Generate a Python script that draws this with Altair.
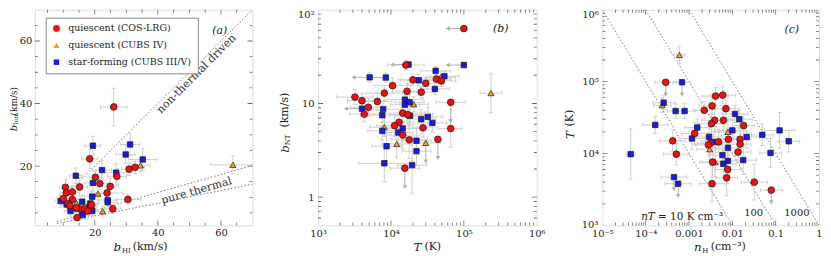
import altair as alt
import pandas as pd

FONT = "DejaVu Serif"
GROUPS = ["quiescent (COS-LRG)", "quiescent (CUBS IV)", "star-forming (CUBS III/V)"]
FILLS = ["#ee1111", "#f2a020", "#1a1ae6"]
SHAPES = ["circle", "triangle-up", "square"]
SIZES = [46, 30, 25]
EDGE = "#1a1a1a"
EB = "#d0d0d0"
ARR = "#b0b0b0"
FRAME = "#7a7a7a"
TICK = "#6a6a6a"
LBL = "#222222"
LINE = "#666666"

# ---------------- panel (a): b_ion vs b_HI (km/s) ----------------
a_red_bHI = [26.0, 18.4, 27.0, 30.9, 32.8, 20.2, 21.6, 24.9, 15.2, 10.7, 23.9, 11.0, 12.9,
             10.0, 12.9, 11.5, 12.1, 15.3, 16.8, 18.6, 17.8, 14.4, 25.7, 30.5, 19.0, 14.2]
a_red_bion = [38.9, 22.3, 16.7, 19.0, 19.6, 16.4, 14.4, 13.5, 13.3, 13.2, 11.4, 11.4, 11.7,
              9.6, 9.3, 8.0, 7.3, 6.3, 6.4, 6.7, 5.6, 3.5, 6.3, 9.3, 7.6, 6.6]
a_red_ebHI = [4.2, 2.5, 3.0, 2.5, 3.0, 2.0, 3.0, 2.5, 2.5, 2.0, 5.0, 2.0, 2.0,
              2.0, 2.5, 2.0, 2.0, 2.0, 2.0, 2.0, 2.0, 2.0, 2.5, 4.0, 2.0, 2.0]
a_red_ebion = [6.0, 3.0, 2.5, 2.0, 2.0, 2.0, 2.0, 2.5, 3.0, 2.5, 2.0, 2.0, 2.0,
               2.0, 2.0, 1.5, 1.5, 1.5, 1.5, 1.5, 1.5, 1.0, 1.5, 1.5, 1.5, 1.5]

a_blue_bHI = [19.4, 31.2, 29.8, 35.2, 14.0, 22.3, 26.8, 19.4, 19.2, 24.1, 24.1, 9.2, 11.1,
              16.0, 18.6, 16.0, 12.3, 19.2, 16.2, 18.3]
a_blue_bion = [26.5, 26.9, 23.7, 22.1, 16.9, 18.7, 17.9, 14.6, 10.2, 9.1, 8.4, 8.8, 7.7,
               8.6, 8.0, 5.4, 5.6, 5.6, 4.4, 6.9]
a_blue_ebHI = [2.5, 3.0, 3.0, 4.5, 2.0, 3.0, 3.5, 2.5, 2.5, 3.0, 3.0, 2.0, 2.0,
               2.0, 2.5, 2.0, 2.0, 2.0, 2.0, 2.0]
a_blue_ebion = [3.0, 3.5, 3.0, 3.5, 2.5, 3.0, 3.0, 2.5, 2.0, 2.0, 2.0, 2.0, 2.0,
                2.0, 2.0, 1.5, 1.5, 1.5, 1.5, 1.5]

a_orange_bHI = [63.8, 34.5, 21.0, 14.2, 13.1, 22.5]
a_orange_bion = [20.4, 20.2, 11.2, 8.1, 6.4, 5.5]
a_orange_ebHI = [7.0, 3.0, 2.5, 2.0, 2.0, 2.5]
a_orange_ebion = [2.8, 2.0, 2.0, 1.5, 1.5, 1.5]

# reference lines: b_ion = ratio * b_HI (non-thermal; pure thermal C and Mg)
a_line_ratio = [1.0, 0.2887, 0.2029]
a_line_bHI = [8.0, 70.0]

# ---------------- panel (b): b_NT vs T ----------------
b_red_T = [1.0e5, 1.6e4, 2.0e4, 3.0e4, 1.05e4, 1.66e4, 8.1e3, 2.6e4, 4.2e4, 4.9e4, 3.2e3, 4.0e3, 6.5e3,
           4.9e3, 4.3e3, 6.6e4, 1.45e4, 1.7e4, 1.29e4, 1.12e4, 2.75e4, 6.6e4, 1.45e4, 1.78e4, 4.4e4, 1.55e4]
b_red_bNT = [63, 25.7, 17.9, 16.4, 15.5, 13.5, 12.9, 13.2, 18.2, 17.4, 11.7, 10.7, 10.5,
             9.1, 7.7, 10.3, 7.9, 7.6, 6.3, 5.8, 5.5, 5.4, 4.6, 4.1, 4.15, 2.04]
b_red_lim = ["left"] + [""] * 14 + ["down"] + [""] * 8 + ["down", "down"]
b_red_eT = [0, .25, .2, .25, .25, .2, .25, .2, .2, .2, .25, .2, .2,
            .25, .2, .2, .3, .25, .2, .25, .2, .15, .25, .25, 0, .2]
b_red_eb = [.03, .05, .06, .06, .08, .08, .08, .06, .05, .06, .08, .08, .1,
            .1, .08, 0, .1, .1, .1, .12, .1, .2, .15, .2, 0, 0]

b_blue_T = [1.74e4, 1.0e5, 4.1e4, 5.4e4, 5.1e3, 8.5e3, 2.4e4, 4.0e4, 1.55e4, 1.55e4, 1.8e4, 4.0e3, 7.8e3,
            7.6e3, 1.82e4, 3.2e4, 2.6e4, 3.7e4, 7.6e3, 1.45e4, 1.26e4, 8.7e3, 2.24e4, 2.24e4, 8.1e3, 1.95e4]
b_blue_bNT = [26, 25.7, 22.3, 19.5, 19, 18.9, 17.7, 14.3, 11.0, 9.7, 10.3, 8.8, 8.7,
              7.5, 7.4, 7.2, 6.8, 6.2, 5.1, 5.4, 4.9, 3.5, 4.0, 3.1, 2.3, 2.2]
b_blue_lim = ["left", "left", "", "", "left", "left"] + [""] * 5 + ["left"] + [""] * 14
b_blue_eT = [0, 0, .2, .2, 0, 0, .25, .2, .25, .2, .2, 0, .25,
             .3, .2, .2, .2, .2, .2, .3, .2, .2, .2, .2, .35, .2]
b_blue_eb = [.03, .03, .05, .05, .05, .05, .06, .06, .08, .1, .08, .06, .08,
             .08, .1, .1, .1, .1, .1, .12, .12, .15, .15, .15, .2, .3]

b_orange_T = [2.35e5, 2.05e4, 8.1e3, 1.2e4, 3.0e4, 4.8e4]
b_orange_bNT = [12.9, 9.8, 5.6, 3.7, 3.8, 19.0]
b_orange_lim = ["", "", "", "", "down", ""]
b_orange_eT = [.15, .2, .2, .2, .2, .2]
b_orange_eb = [.21, .08, .1, .15, 0, .06]

# ---------------- panel (c): T vs n_H ----------------
c_red_nH = [2.9e-4, 4.1e-3, 6.0e-3, 2.24e-3, 3.4e-3, 7.1e-3, 3.9e-3, 3.3e-3, 6.2e-3, 1.82e-2, 1.35e-3, 4.2e-4, 3.1e-3,
            4.8e-3, 8.1e-3, 1.51e-2, 1.51e-2, 1.35e-2, 5.1e-4, 3.5e-3, 7.8e-3, 7.4e-3, 3.4e-3, 3.2e-2, 7.9e-2, 2.8e-3]
c_red_T = [9.8e4, 6.3e4, 6.5e4, 4.0e4, 4.6e4, 4.2e4, 2.9e4, 2.6e4, 2.9e4, 2.45e4, 1.9e4, 1.5e4, 1.38e4,
           1.45e4, 1.58e4, 1.58e4, 1.35e4, 1.05e4, 9.8e3, 7.6e3, 6.0e3, 4.6e3, 3.8e3, 4.0e3, 3.1e3, 1.32e4]
c_red_lim = ["down"] + [""] * 23 + ["down", ""]
c_red_en = [.25, .3, .3, .25, .3, .3, .3, .3, .3, .25, .3, .3, .3,
            .3, .25, .25, .25, .3, .3, .3, .3, .25, .3, .3, .25, .3]
c_red_eT = [0, .12, .12, .12, .12, .12, .15, .15, .15, .15, .15, .15, .15,
            .15, .15, .15, .15, .15, .15, .2, .2, .25, .25, .25, 0, .15]

c_blue_nH = [6.9e-4, 2.6e-4, 4.9e-4, 7.9e-4, 1.66e-4, 1.15e-2, 1.45e-2, 1.55e-3, 1.17e-3, 2.9e-3, 3.8e-3, 1.0e-2, 2.14e-2,
             4.9e-2, 0.123, 0.2, 7.6e-2, 7.9e-3, 5.9e-3, 7.9e-3, 6.2e-3, 1.78e-2, 4.5e-5, 4.5e-4, 5.6e-4]
c_blue_T = [9.8e4, 5.1e4, 3.9e4, 3.9e4, 2.5e4, 3.55e4, 3.0e4, 2.3e4, 1.62e4, 1.7e4, 1.45e4, 2.1e4, 1.7e4,
            1.82e4, 2.1e4, 1.48e4, 1.02e4, 1.2e4, 9.5e3, 7.9e3, 7.2e3, 8.1e3, 9.8e3, 4.7e3, 3.8e3]
c_blue_lim = ["down"] + [""] * 22 + ["down", "down"]
c_blue_en = [.2, .25, .2, .25, .3, .3, .3, .3, .3, .3, .3, .3, .3,
             .25, .35, .25, .25, .3, .3, .3, .3, .3, .1, .3, .3]
c_blue_eT = [0, .1, .1, .1, .12, .12, .12, .12, .15, .15, .15, .15, .15,
             .15, .25, .15, .2, .15, .15, .2, .2, .2, .35, 0, 0]

c_orange_nH = [6.0e-4, 2.4e-4, 7.9e-3, 3.0e-3, 4.0e-3]
c_orange_T = [2.35e5, 4.7e4, 2.0e4, 1.15e4, 7.6e3]
c_orange_lim = ["", "", "", "", ""]
c_orange_en = [.12, .2, .3, .3, .3]
c_orange_eT = [.12, .1, .15, .15, .2]

c_nT = [10, 100, 1000]

ONE = pd.DataFrame({"k": [0]})


def build_df(sets, log, arrow_dex=0.2, left_dex=0.22):
    rows = []
    for grp, xs, ys, exs, eys, lims in sets:
        for i in range(len(xs)):
            x, y, ex, ey = xs[i], ys[i], exs[i], eys[i]
            lim = lims[i] if lims else ""
            if log:
                xlo, xhi = x / 10 ** ex, x * 10 ** ex
                ylo, yhi = y / 10 ** ey, y * 10 ** ey
            else:
                xlo, xhi, ylo, yhi = x - ex, x + ex, y - ey, y + ey
            ax, ay = x, y
            if lim == "down":
                ay = y / 10 ** arrow_dex
            elif lim == "left":
                ax = x / 10 ** left_dex
            rows.append(dict(grp=grp, x=x, y=y, xlo=xlo, xhi=xhi, ylo=ylo, yhi=yhi,
                             hasx=ex > 0, hasy=ey > 0, lim=lim, ax=ax, ay=ay))
    return pd.DataFrame(rows)


def txt(text, x, y, size=11, italic=False, angle=0, align="center", color=LBL):
    return alt.Chart(ONE).mark_text(
        text=text, font=FONT, fontSize=size, fontStyle="italic" if italic else "normal",
        angle=angle, align=align, baseline="middle", color=color
    ).encode(x=alt.value(x), y=alt.value(y))


class P:
    """Holds a panel's scales and axes, so every layer shares identical specs."""
    def __init__(self, xsc, ysc, xax, yax):
        self.xsc, self.ysc, self.xax, self.yax = xsc, ysc, xax, yax

    def X(self, f):
        return alt.X(f"{f}:Q", scale=self.xsc, axis=self.xax)

    def Y(self, f):
        return alt.Y(f"{f}:Q", scale=self.ysc, axis=self.yax)


def data_layers(df, p, legend):
    L = []
    ex = df[df.hasx]
    ey = df[df.hasy]
    L.append(alt.Chart(ex).mark_rule(color=EB, strokeWidth=1, clip=True).encode(
        x=p.X("xlo"), x2="xhi:Q", y=p.Y("y")))
    L.append(alt.Chart(ey).mark_rule(color=EB, strokeWidth=1, clip=True).encode(
        x=p.X("x"), y=p.Y("ylo"), y2="yhi:Q"))
    capx = pd.concat([ex[["xlo", "y"]].rename(columns={"xlo": "cx", "y": "cy"}),
                      ex[["xhi", "y"]].rename(columns={"xhi": "cx", "y": "cy"})])
    capy = pd.concat([ey[["x", "ylo"]].rename(columns={"x": "cx", "ylo": "cy"}),
                      ey[["x", "yhi"]].rename(columns={"x": "cx", "yhi": "cy"})])
    L.append(alt.Chart(capx).mark_tick(orient="vertical", size=4, thickness=1, color=EB,
                                       opacity=1, clip=True).encode(x=p.X("cx"), y=p.Y("cy")))
    L.append(alt.Chart(capy).mark_tick(orient="horizontal", size=4, thickness=1, color=EB,
                                       opacity=1, clip=True).encode(x=p.X("cx"), y=p.Y("cy")))
    dn = df[df.lim == "down"]
    lf = df[df.lim == "left"]
    if len(dn):
        L.append(alt.Chart(dn).mark_rule(color=ARR, strokeWidth=1, clip=True).encode(
            x=p.X("x"), y=p.Y("y"), y2="ay:Q"))
        L.append(alt.Chart(dn).mark_point(shape="triangle-down", filled=True, color=ARR, size=22,
                                          opacity=1, clip=True).encode(x=p.X("ax"), y=p.Y("ay")))
    if len(lf):
        L.append(alt.Chart(lf).mark_rule(color=ARR, strokeWidth=1, clip=True).encode(
            x=p.X("x"), x2="ax:Q", y=p.Y("y")))
        L.append(alt.Chart(lf).mark_point(shape="triangle-left", filled=True, color=ARR, size=22,
                                          opacity=1, clip=True).encode(x=p.X("ax"), y=p.Y("ay")))
    L.append(alt.Chart(df).mark_point(filled=True, opacity=1, stroke=EDGE, strokeWidth=0.7, clip=True).encode(
        x=p.X("x"), y=p.Y("y"),
        fill=alt.Fill("grp:N", scale=alt.Scale(domain=GROUPS, range=FILLS), legend=legend),
        shape=alt.Shape("grp:N", scale=alt.Scale(domain=GROUPS, range=SHAPES), legend=legend),
        size=alt.Size("grp:N", scale=alt.Scale(domain=GROUPS, range=SIZES), legend=legend),
    ))
    return L


def frame_ticks(p, xmaj, xmin, ymaj, ymin, w, h):
    L = []
    for vals, size in [(xmaj, 10), (xmin, 6)]:
        d = pd.DataFrame({"v": vals})
        for yy in [0, h]:
            L.append(alt.Chart(d).mark_tick(orient="vertical", size=size, thickness=0.8, color=TICK,
                                            opacity=1, clip=True).encode(x=p.X("v"), y=alt.value(yy)))
    for vals, size in [(ymaj, 10), (ymin, 6)]:
        d = pd.DataFrame({"v": vals})
        for xx in [0, w]:
            L.append(alt.Chart(d).mark_tick(orient="horizontal", size=size, thickness=0.8, color=TICK,
                                            opacity=1, clip=True).encode(x=alt.value(xx), y=p.Y("v")))
    return L


def log_minor(d0, d1):
    return [k * 10.0 ** d for d in range(d0, d1) for k in range(2, 10)]


AX = dict(ticks=False, domain=False, grid=False, labelFont=FONT, labelFontSize=10,
          labelColor=LBL, labelOverlap=False, title=None)

WA, WB, WC, H = 219, 220, 218, 217

# ---------------- panel (a) ----------------
dfa = build_df([
    (GROUPS[1], a_orange_bHI, a_orange_bion, a_orange_ebHI, a_orange_ebion, None),
    (GROUPS[2], a_blue_bHI, a_blue_bion, a_blue_ebHI, a_blue_ebion, None),
    (GROUPS[0], a_red_bHI, a_red_bion, a_red_ebHI, a_red_ebion, None),
], log=False)
pA = P(alt.Scale(domain=[1, 70], nice=False, zero=False),
       alt.Scale(domain=[1, 70], nice=False, zero=False),
       alt.Axis(values=[20, 40, 60], labelFlush=False, labelPadding=2, **AX),
       alt.Axis(values=[20, 40, 60], labelFlush=False, labelPadding=3, **AX))
lines_a = pd.DataFrame([dict(line=i, x=bx, y=r * bx) for i, r in enumerate(a_line_ratio) for bx in a_line_bHI])
leg = alt.Legend(title=None, orient="none", legendX=11, legendY=8, fillColor="white",
                 strokeColor="#888888", padding=6, labelFont=FONT, labelFontSize=9.5, labelColor=LBL,
                 symbolStrokeColor=EDGE, symbolStrokeWidth=0.7, rowPadding=6,
                 labelOffset=7, cornerRadius=0)
la = [alt.Chart(lines_a).mark_line(color=LINE, strokeDash=[1.5, 2], strokeWidth=0.9, clip=True).encode(
    x=pA.X("x"), y=pA.Y("y"), detail="line:N")]
la += data_layers(dfa, pA, leg)
ann_a = pd.DataFrame({"x": [52.3, 52.3], "y": [49.4, 12.0], "t": ["non-thermal driven", "pure thermal"]})
la.append(alt.Chart(ann_a.iloc[[0]]).mark_text(font=FONT, fontSize=11, color="#333", angle=315,
                                               baseline="middle").encode(
    x=pA.X("x"), y=pA.Y("y"), text="t:N"))
la.append(alt.Chart(ann_a.iloc[[1]]).mark_text(font=FONT, fontSize=11, color="#333", angle=344,
                                               baseline="middle").encode(
    x=pA.X("x"), y=pA.Y("y"), text="t:N"))
la.append(alt.Chart(pd.DataFrame({"x": [59.6], "y": [63.1]})).mark_text(
    text="(a)", font=FONT, fontSize=11, fontStyle="italic", color=LBL).encode(x=pA.X("x"), y=pA.Y("y")))
la += frame_ticks(pA, [20, 40, 60], [5, 10, 15, 25, 30, 35, 45, 50, 55, 65],
                  [20, 40, 60], [5, 10, 15, 25, 30, 35, 45, 50, 55, 65], WA, H)
la += [txt("b", 83, 239, 12, True), txt("HI", 92, 242.5, 7), txt("(km/s)", 98.5, 239, 11, align="left"),
       txt("b", -21, 119, 10, True, 270), txt("Ion", -18.5, 110.5, 6.5, angle=270),
       txt("(km/s)", -21, 92, 9, angle=270)]
pa = alt.layer(*la).properties(width=WA, height=H)

# ---------------- panel (b) ----------------
dfb = build_df([
    (GROUPS[1], b_orange_T, b_orange_bNT, b_orange_eT, b_orange_eb, b_orange_lim),
    (GROUPS[2], b_blue_T, b_blue_bNT, b_blue_eT, b_blue_eb, b_blue_lim),
    (GROUPS[0], b_red_T, b_red_bNT, b_red_eT, b_red_eb, b_red_lim),
], log=True, arrow_dex=0.2, left_dex=0.22)
pB = P(alt.Scale(type="log", domain=[1e3, 1e6], nice=False),
       alt.Scale(type="log", domain=[0.5, 100], nice=False),
       alt.Axis(values=[1e3, 1e4, 1e5, 1e6], labelFlush=False, labelPadding=3,
                labelExpr="datum.value < 5000 ? '10³' : datum.value < 50000 ? '10⁴' : datum.value < 500000 ? '10⁵' : '10⁶'",
                **AX),
       alt.Axis(values=[1, 10, 100], labelFlush=True, labelPadding=4,
                labelExpr="datum.value > 50 ? '10²' : datum.value > 5 ? '10' : '1'", **AX))
lb = data_layers(dfb, pB, None)
lb.append(alt.Chart(pd.DataFrame({"x": [3.2e5], "y": [62]})).mark_text(
    text="(b)", font=FONT, fontSize=11, fontStyle="italic", color=LBL).encode(x=pB.X("x"), y=pB.Y("y")))
lb += frame_ticks(pB, [1e4, 1e5], log_minor(3, 6), [1, 10],
                  [0.6, 0.7, 0.8, 0.9] + log_minor(0, 2), WB, H)
lb += [txt("T", 100, 239, 12, True), txt("(K)", 107, 239, 11, align="left"),
       txt("b", -33, 140, 12, True, 270), txt("NT", -30, 131, 7, angle=270),
       txt("(km/s)", -33, 101, 11, angle=270)]
pb = alt.layer(*lb).properties(width=WB, height=H)

# ---------------- panel (c) ----------------
dfc = build_df([
    (GROUPS[1], c_orange_nH, c_orange_T, c_orange_en, c_orange_eT, c_orange_lim),
    (GROUPS[2], c_blue_nH, c_blue_T, c_blue_en, c_blue_eT, c_blue_lim),
    (GROUPS[0], c_red_nH, c_red_T, c_red_en, c_red_eT, c_red_lim),
], log=True, arrow_dex=0.17)
pC = P(alt.Scale(type="log", domain=[1e-5, 1], nice=False),
       alt.Scale(type="log", domain=[1e3, 1e6], nice=False),
       alt.Axis(values=[1e-5, 1e-4, 1e-3, 1e-2, 1e-1, 1], labelFlush=False, labelPadding=3,
                labelExpr="datum.value < 0.00005 ? '10⁻⁵' : datum.value < 0.0005 ? '10⁻⁴' : datum.value < 0.005 ? '0.001' : datum.value < 0.05 ? '0.01' : datum.value < 0.5 ? '0.1' : '1'",
                **AX),
       alt.Axis(values=[1e4, 1e5, 1e6], labelFlush=True, labelPadding=4,
                labelExpr="datum.value < 50000 ? '10⁴' : datum.value < 500000 ? '10⁵' : '10⁶'",
                **AX))
lines_c = pd.DataFrame([dict(line=v, x=v / T, y=T) for v in c_nT for T in (1e6, 1e3)])
lc = [alt.Chart(lines_c).mark_line(color=LINE, strokeDash=[1.5, 2], strokeWidth=0.9, clip=True).encode(
    x=pC.X("x"), y=pC.Y("y"), detail="line:N")]
lc += data_layers(dfc, pC, None)
lc.append(alt.Chart(pd.DataFrame({"v": [1e3]})).mark_text(
    text="10³", font=FONT, fontSize=10, color=LBL, align="right", baseline="middle", dx=-4).encode(
    x=alt.value(0), y=pC.Y("v")))
ann_c = pd.DataFrame({"x": [7.85e-5, 7.85e-5, 0.0311, 0.309], "y": [1290, 1290, 1466, 1466],
                      "t": ["nT", "= 10 K cm⁻³", "100", "1000"]})
lc.append(alt.Chart(ann_c.iloc[[0]]).mark_text(font=FONT, fontSize=10.5, fontStyle="italic", color=LBL,
                                               align="left", baseline="middle").encode(
    x=pC.X("x"), y=pC.Y("y"), text="t:N"))
lc.append(alt.Chart(ann_c.iloc[[1]]).mark_text(font=FONT, fontSize=10.5, color=LBL, dx=17,
                                               align="left", baseline="middle").encode(
    x=pC.X("x"), y=pC.Y("y"), text="t:N"))
lc.append(alt.Chart(ann_c.iloc[[2, 3]]).mark_text(font=FONT, fontSize=10, color=LBL,
                                                  align="center", baseline="middle").encode(
    x=pC.X("x"), y=pC.Y("y"), text="t:N"))
lc.append(alt.Chart(pd.DataFrame({"x": [0.234], "y": [5.3e5]})).mark_text(
    text="(c)", font=FONT, fontSize=11, fontStyle="italic", color=LBL).encode(x=pC.X("x"), y=pC.Y("y")))
lc += frame_ticks(pC, [1e-4, 1e-3, 1e-2, 1e-1], log_minor(-5, 0), [1e4, 1e5], log_minor(3, 6), WC, H)
lc += [txt("n", 96, 239, 12, True), txt("H", 103.5, 242.5, 7), txt("(cm⁻³)", 109, 239, 11, align="left"),
       txt("T", -33, 126, 12, True, 270), txt("(K)", -33, 109, 11, angle=270)]
pc = alt.layer(*lc).properties(width=WC, height=H)

chart = alt.hconcat(pa, pb, pc, spacing=66, bounds="flush").resolve_scale(
    fill="independent", shape="independent", size="independent"
).properties(padding=0).configure_view(stroke=FRAME, strokeWidth=1).configure(font=FONT)

chart.save("out.html", embed_options={"renderer": "svg", "actions": False})
